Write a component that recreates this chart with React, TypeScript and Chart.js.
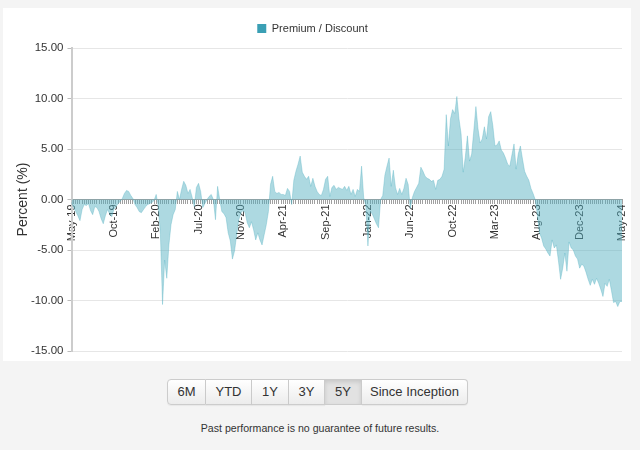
import React, { useEffect, useRef } from "react";
import { Chart, registerables } from "chart.js";

Chart.register(...registerables);

const seriesLabel = "Premium / Discount";
const TICK_EVERY = 20;
const tickLabels = [
  "May-19", "Oct-19", "Feb-20", "Jul-20", "Nov-20", "Apr-21", "Sep-21",
  "Jan-22", "Jun-22", "Oct-22", "Mar-23", "Aug-23", "Dec-23", "May-24",
];
const yTicks = { min: -15, max: 15, step: 5 };
const rangeButtons = ["6M", "YTD", "1Y", "3Y", "5Y", "Since Inception"];
const activeRange = "5Y";
const footnote = "Past performance is no guarantee of future results.";

// weekly premium / discount (%), May-19 .. May-24
const premiumDiscount = [
  -0.3, -0.8, -1.2, -1.6, -2.1, -1.0, -0.5, -0.6, -0.4, -1.1, -1.5, -0.7, -0.8, -1.2, -1.9, -2.4, -1.6, -1.0, -1.4, -1.7,
  -1.0, -0.7, -0.4, -0.2, 0.1, 0.6, 0.9, 0.8, 0.4, 0.1, -0.5, -0.8, -1.2, -1.3, -1.0, -0.7, -0.5, -0.4, -0.3, -0.1,
  0.5, -0.7, -3.5, -10.4, -6.0, -7.8, -4.5, -2.5, -1.5, -1.0, 0.8, 0.0, 1.0, 1.8, 1.4, 0.6, 1.0, 0.2, -0.7, 1.2,
  1.6, 0.8, -0.8, -0.4, 0.0, 0.3, 0.5, 0.0, -2.0, 1.3, 0.0, -1.2, -1.4, -1.8, -3.3, -4.1, -5.9, -5.1, -3.5, -2.0,
  -1.3, -1.1, -1.3, -2.3, -2.8, -2.2, -3.0, -4.0, -3.3, -4.0, -4.5, -3.5, -2.5, -1.2, 1.5, 2.3, 0.8, 0.6, 0.7, 0.5,
  0.5, 0.4, 1.1, 0.8, -0.5, 1.9, 2.8, 3.5, 4.3, 2.7, 2.3, 2.0, 2.3, 1.3, 2.1, 1.3, 0.8, 0.5, 0.4, 1.0,
  2.0, 2.3, 0.3, 1.2, 1.4, 1.0, 1.2, 1.1, 1.0, 1.3, 0.9, 1.3, 0.5, 1.0, 0.3, 1.0, 0.8, 3.3, 0.2, -0.6,
  -4.6, -1.2, -1.4, -1.9, -2.4, -2.8, 0.0, 0.4, 2.4, 3.3, 4.1, 1.3, 2.9, 1.2, 0.5, 1.1, 0.5, 1.1, 2.1, 1.5,
  -0.9, 0.2, 0.8, 1.2, 1.6, 3.2, 2.8, 2.3, 2.1, 2.0, 1.8, 1.9, 1.0, 1.9, 2.0, 2.3, 3.0, 8.4, 5.3, 8.0,
  8.9, 8.5, 10.2, 8.0, 6.5, 2.7, 4.2, 6.3, 3.8, 4.5, 6.8, 9.2, 7.0, 5.6, 6.0, 7.2, 6.0, 8.2, 8.7, 7.3,
  5.3, 5.4, 5.8, 4.9, 4.6, 4.1, 3.5, 3.3, 4.4, 5.5, 3.0, 4.5, 5.3, 4.0, 2.8, 2.3, 1.9, 1.1, 0.6, 0.0,
  -1.5, -3.3, -3.8, -4.6, -4.9, -5.3, -5.6, -4.0, -4.8, -4.5, -6.1, -7.9, -6.8, -5.3, -7.1, -4.2, -4.8, -5.0, -5.6, -5.9,
  -6.8, -6.4, -6.6, -7.2, -7.9, -8.5, -7.9, -8.4, -7.8, -8.3, -8.9, -9.6, -8.3, -8.6, -7.9, -9.0, -10.2, -10.1, -10.6, -10.1, -10.1,
];

const categories = premiumDiscount.map((_, i) =>
  i % TICK_EVERY === 0 ? tickLabels[i / TICK_EVERY] : ""
);

const FONT = "'Liberation Sans', Arial, sans-serif";
const buttonWidths = [39, 46, 37, 36, 37, 106];

export default function App() {
  const canvasRef = useRef<HTMLCanvasElement | null>(null);

  useEffect(() => {
    if (!canvasRef.current) return;
    Chart.defaults.font.family = FONT;
    const legendGap = {
      id: "legendGap",
      beforeInit(chart: any) {
        const orig = chart.legend.fit;
        chart.legend.fit = function fit() {
          orig.bind(chart.legend)();
          this.height += 4;
        };
      },
    };
    const chart = new Chart(canvasRef.current, {
      type: "line",
      data: {
        labels: categories,
        datasets: [
          {
            label: seriesLabel,
            data: premiumDiscount,
            borderColor: "rgba(80,175,192,0.35)",
            borderWidth: 1,
            backgroundColor: "rgba(80,175,192,0.47)",
            fill: "origin",
            pointRadius: 0,
            tension: 0,
          },
        ],
      },
      plugins: [legendGap],
      options: {
        animation: false,
        responsive: true,
        maintainAspectRatio: false,
        layout: { padding: { top: 5, right: 9, bottom: 10, left: 0 } },
        plugins: {
          tooltip: { enabled: false },
          legend: {
            position: "top",
            labels: {
              boxWidth: 9,
              boxHeight: 9,
              padding: 10,
              color: "#333",
              font: { size: 11, family: FONT },
              generateLabels: (c: any) =>
                (Chart.defaults.plugins.legend.labels as any)
                  .generateLabels(c)
                  .map((l: any) => ({ ...l, fillStyle: "#3a9fb4", strokeStyle: "#3a9fb4", lineWidth: 0 })),
            },
          },
        },
        scales: {
          x: {
            type: "category",
            position: { y: 0 } as any,
            offset: false,
            z: 1,
            grid: {
              display: true,
              drawOnChartArea: false,
              drawTicks: true,
              tickLength: 4,
              color: "#a0a0a0",
              lineWidth: 1,
            },
            border: { display: true, color: "#a0a0a0", width: 1 },
            ticks: {
              autoSkip: false,
              maxRotation: 90,
              minRotation: 90,
              padding: 1,
              color: "#333",
              font: { size: 11, family: FONT },
              callback: (_v: any, i: number) => categories[i],
            },
            afterFit: (s: any) => {
              s.height = 0;
              s.paddingLeft = 0;
              s.paddingRight = 0;
            },
          },
          y: {
            min: yTicks.min,
            max: yTicks.max,
            ticks: {
              stepSize: yTicks.step,
              padding: 4,
              color: "#333",
              font: { size: 11.5, family: FONT },
              callback: (v: any) => Number(v).toFixed(2),
            },
            grid: { color: "#e6e6e6", lineWidth: 1, tickLength: 4, tickColor: "#bbb" },
            border: { color: "#ccc", width: 2 },
            title: {
              display: true,
              text: "Percent (%)",
              color: "#333",
              font: { size: 14, family: FONT },
              padding: { top: 12, bottom: 4 },
            },
            afterFit: (s: any) => {
              s.width = 68.5;
              s.paddingTop = 0;
              s.paddingBottom = 0;
            },
          },
        },
      },
    });
    return () => chart.destroy();
  }, []);

  let left = 0;
  return (
    <div
      style={{
        position: "fixed",
        left: 0,
        top: 0,
        width: 640,
        height: 450,
        background: "#f4f4f4",
        fontFamily: FONT,
        overflow: "hidden",
      }}
    >
      <div
        style={{
          position: "absolute",
          left: 3,
          top: 8,
          width: 628,
          height: 353,
          background: "#fff",
        }}
      >
        <canvas ref={canvasRef} />
      </div>
      <div style={{ position: "absolute", left: 167, top: 379, height: 26 }}>
        {rangeButtons.map((b, i) => {
          const w = buttonWidths[i];
          const x = left;
          left += w;
          const active = b === activeRange;
          return (
            <div
              key={b}
              style={{
                position: "absolute",
                left: x,
                top: 0,
                width: w,
                height: 26,
                boxSizing: "border-box",
                border: "1px solid #ccc",
                borderLeftWidth: i === 0 ? 1 : 0,
                borderRadius:
                  i === 0 ? "4px 0 0 4px" : i === rangeButtons.length - 1 ? "0 4px 4px 0" : 0,
                background: active
                  ? "#e2e2e2"
                  : "linear-gradient(#ffffff, #ececec)",
                boxShadow: active ? "inset 0 2px 4px rgba(0,0,0,0.12)" : "0 1px 1px rgba(0,0,0,0.05)",
                color: "#333",
                fontSize: 13,
                lineHeight: "24px",
                textAlign: "center",
              }}
            >
              {b}
            </div>
          );
        })}
      </div>
      <div
        style={{
          position: "absolute",
          left: 0,
          width: 640,
          top: 422,
          textAlign: "center",
          fontSize: 10.6,
          color: "#333",
        }}
      >
        {footnote}
      </div>
    </div>
  );
}
